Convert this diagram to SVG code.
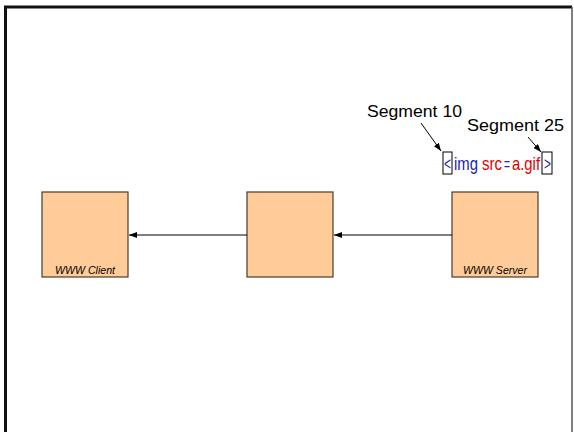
<svg xmlns="http://www.w3.org/2000/svg" width="574" height="432" viewBox="0 0 574 432">
<style>
.node{fill:#ffcc99;stroke:#4a3b2a;stroke-width:1.2}
.lbl{font-family:"Liberation Sans",Arial,sans-serif;font-size:10px;font-style:italic;fill:#000}
.seg{font-family:"Liberation Sans",Arial,sans-serif;font-size:16px;fill:#000}
.conn{stroke:#000;stroke-width:1;fill:none}
.tag{font-family:"Liberation Sans",Arial,sans-serif;font-size:19px}
.b{fill:#2222aa}
.r{fill:#dd0000}
</style>
<defs>
<marker id="ah" markerWidth="8" markerHeight="6" refX="8" refY="3" orient="auto" markerUnits="userSpaceOnUse">
<path d="M0,0 L8,3 L0,6 z" fill="#000"/>
</marker>
</defs>
<rect x="0" y="0" width="574" height="432" fill="#fff"/>
<path d="M5.5,440 V7 H572" fill="none" stroke="#111" stroke-width="3"/>
<path d="M572,7 V440" fill="none" stroke="#555" stroke-width="1.5"/>
<g id="client"><rect class="node" x="42" y="192" width="86" height="85"/><text class="lbl" x="85" y="274" text-anchor="middle" textLength="60" lengthAdjust="spacingAndGlyphs">WWW Client</text></g>
<g id="middle"><rect class="node" x="247" y="192" width="86" height="85"/></g>
<g id="server"><rect class="node" x="452" y="192" width="86" height="85"/><text class="lbl" x="495" y="274" text-anchor="middle" textLength="64" lengthAdjust="spacingAndGlyphs">WWW Server</text></g>
<g id="connectors">
<line class="conn" x1="247" y1="235" x2="129" y2="235" marker-end="url(#ah)"/>
<line class="conn" x1="452" y1="235" x2="334" y2="235" marker-end="url(#ah)"/>
<line class="conn" x1="421" y1="123" x2="441" y2="151" marker-end="url(#ah)"/>
<line class="conn" x1="528" y1="137" x2="541" y2="152" marker-end="url(#ah)"/>
</g>
<g id="seg10"><text class="seg" x="367" y="117" textLength="95" lengthAdjust="spacingAndGlyphs">Segment 10</text></g>
<g id="seg25"><text class="seg" x="467" y="131" textLength="97" lengthAdjust="spacingAndGlyphs">Segment 25</text></g>
<g id="tag">
<rect x="443" y="152" width="9" height="22" fill="none" stroke="#000" stroke-width="1"/>
<rect x="542" y="152" width="10" height="22" fill="none" stroke="#000" stroke-width="1"/>
<text class="tag b" x="444" y="170" textLength="7" lengthAdjust="spacingAndGlyphs">&lt;</text>
<text class="tag b" x="454" y="170" textLength="24" lengthAdjust="spacingAndGlyphs">img</text>
<text class="tag r" x="482" y="170" textLength="20" lengthAdjust="spacingAndGlyphs">src</text>
<text class="tag b" x="504" y="170" textLength="6" lengthAdjust="spacingAndGlyphs">=</text>
<text class="tag r" x="512" y="170" textLength="28" lengthAdjust="spacingAndGlyphs">a.gif</text>
<text class="tag b" x="544" y="170" textLength="7" lengthAdjust="spacingAndGlyphs">&gt;</text>
</g>
</svg>
